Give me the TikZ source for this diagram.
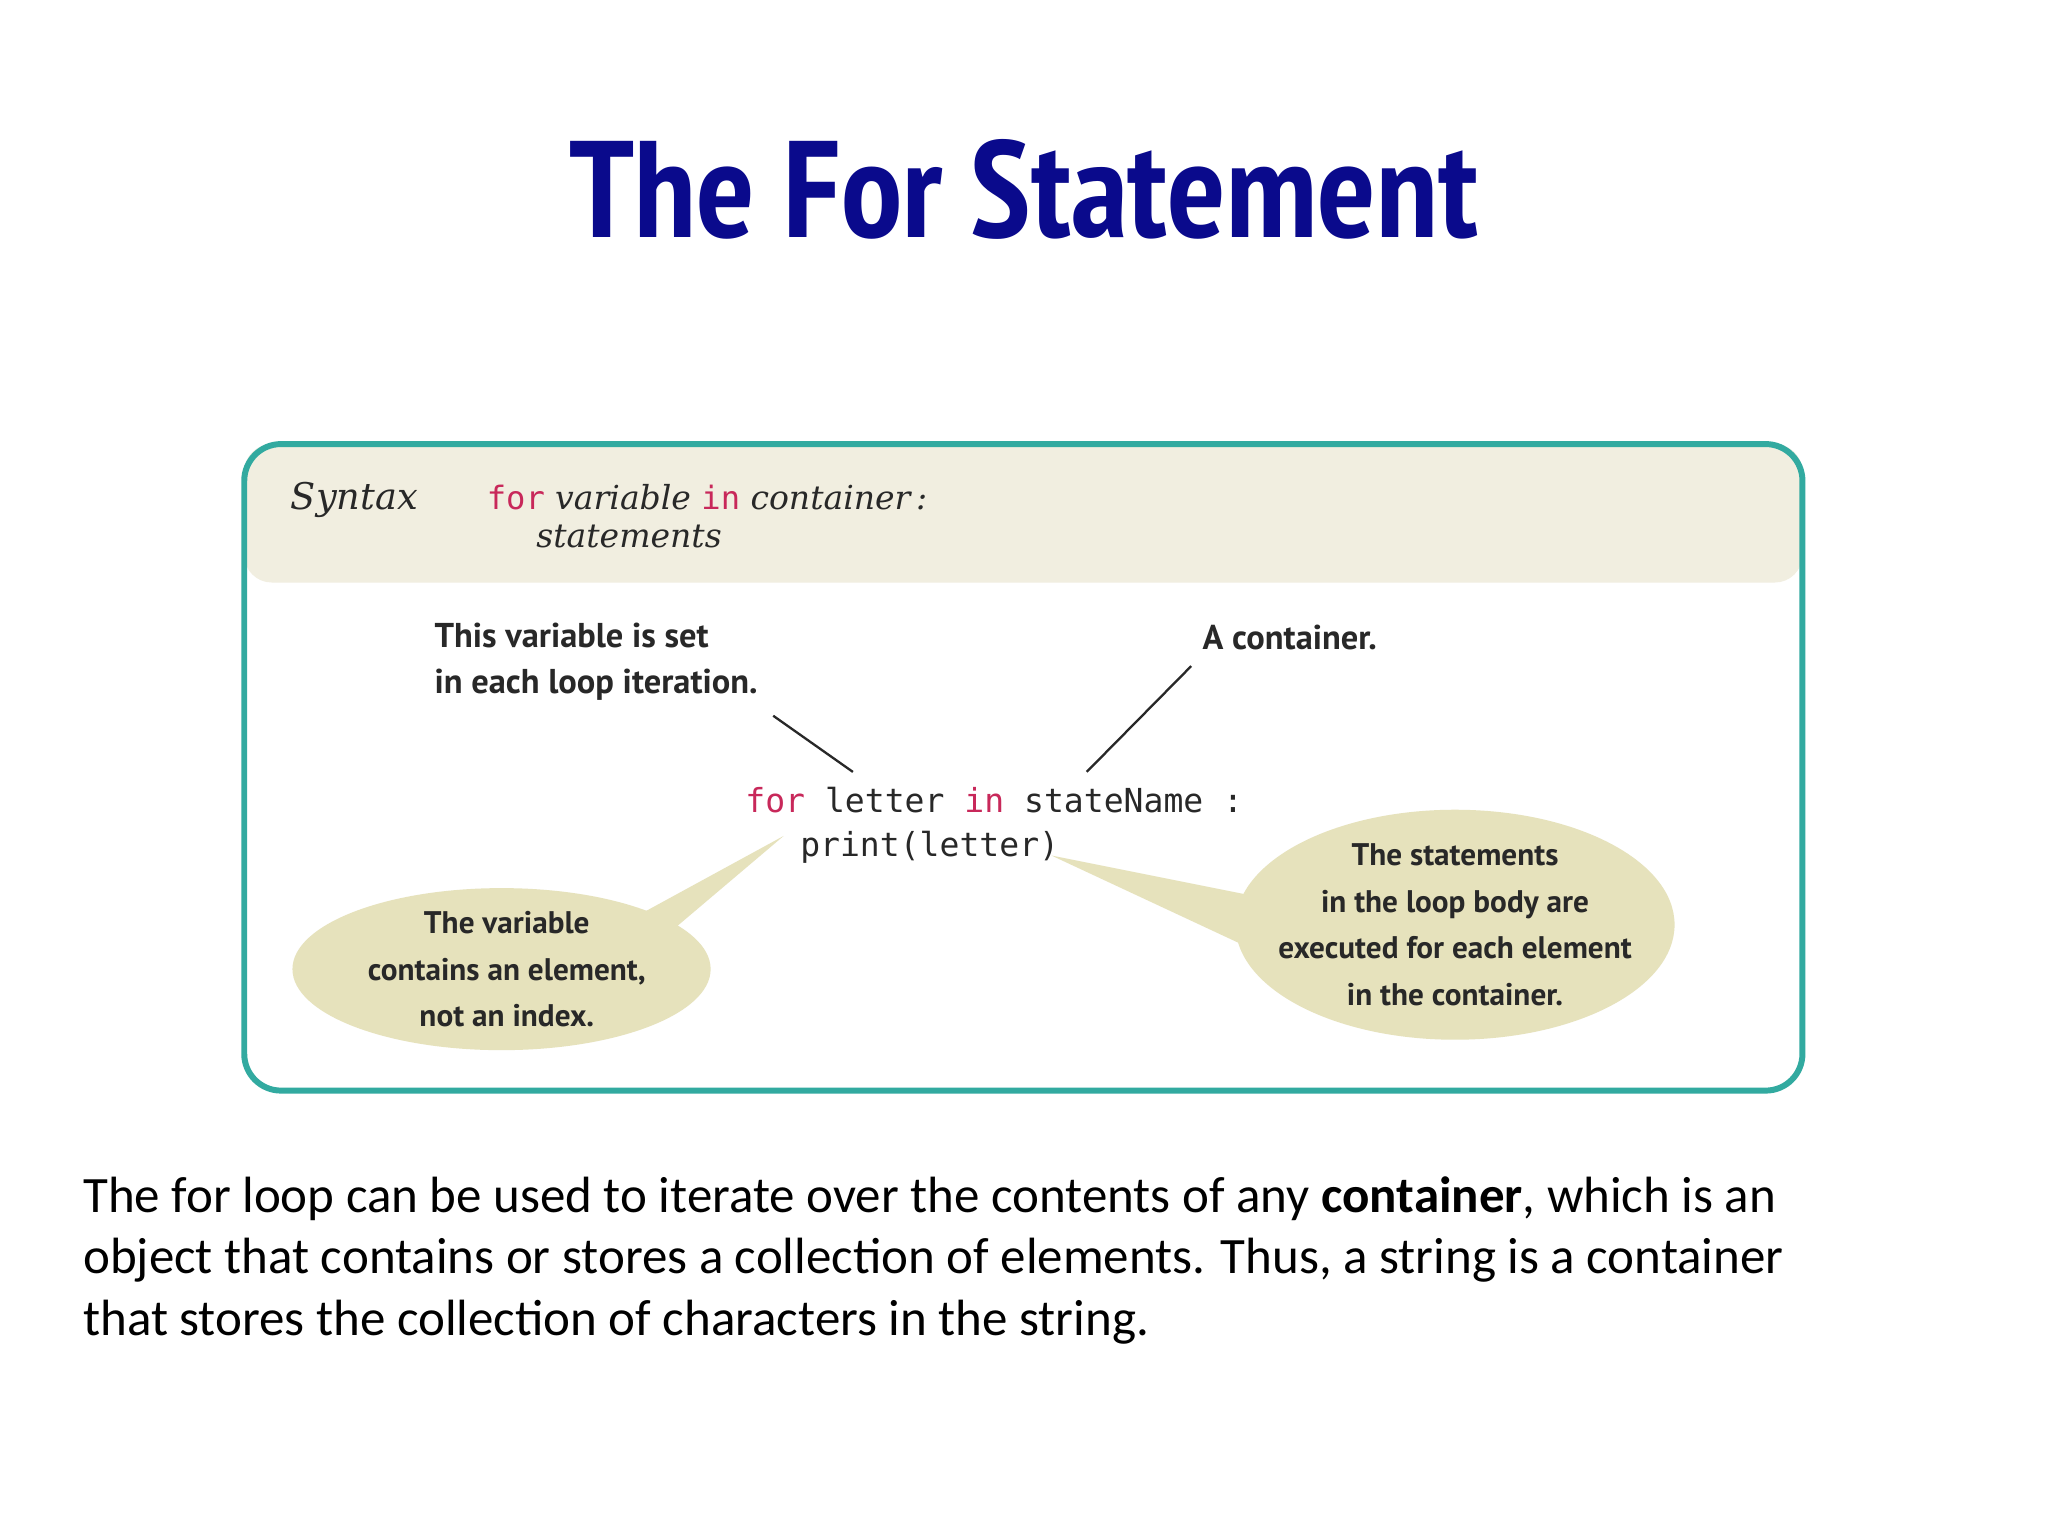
\documentclass[tikz,border=0pt]{standalone}
\usepackage{fontspec}
\setmainfont{Carlito}
\newfontfamily\notefont{PT Sans}
\newfontfamily\codefont{DejaVu Sans Mono}
\newfontfamily\synfont{DejaVu Serif}
\usetikzlibrary{shapes.geometric}
\definecolor{ttl}{RGB}{10,10,140}
\definecolor{teal}{RGB}{50,170,160}
\definecolor{band}{RGB}{241,238,224}
\definecolor{kw}{RGB}{200,40,90}
\definecolor{bub}{RGB}{230,226,188}
\definecolor{ink}{RGB}{40,40,40}
\tikzset{
 note/.style={font=\notefont\bfseries\fontsize{7.5}{10}\selectfont, text=ink, align=left, inner sep=0},
 bubtxt/.style={font=\notefont\bfseries\fontsize{6.8}{10.2}\selectfont, text=ink, align=center, inner sep=0},
 code/.style={font=\codefont\fontsize{7.2}{9}\selectfont, text=ink, inner sep=0, anchor=base west},
 lead/.style={draw=ink, line width=0.5pt}
}
\begin{document}
\begin{tikzpicture}[x=0.01cm,y=-0.01cm]
\useasboundingbox (0,0) rectangle (1568,1176);
\fill[white] (0,0) rectangle (1568,1176);
\node[font=\fontspec{PT Sans Narrow Bold}\fontsize{30}{32}\selectfont, text=ttl, inner sep=0] (title) at (784,145) {\resizebox{6.95cm}{!}{The For Statement}};
% box
\fill[band, rounded corners=6] (187,340) rectangle (1380,446);
\draw[teal, line width=1.3pt, rounded corners=8] (187,340) rectangle (1380,835);
\node[font=\synfont\itshape\fontsize{8}{10}\selectfont, text=ink, anchor=base west, inner sep=0] (syn) at (222,390) {Syntax};
\node[anchor=base west, inner sep=0, text=ink] (synline) at (372,390) {{\codefont\fontsize{7}{9}\selectfont\color{kw}for} {\synfont\itshape\fontsize{7.2}{9}\selectfont variable} {\codefont\fontsize{7}{9}\selectfont\color{kw}in} {\synfont\itshape\fontsize{7.2}{9}\selectfont container\,:}};
\node[font=\synfont\itshape\fontsize{7.2}{9}\selectfont, text=ink, anchor=base west, inner sep=0] (stm) at (410,419) {statements};
% annotations
\node[note, anchor=north west] (n1) at (332,476) {This variable is set\\in each loop iteration.};
\node[note, anchor=north west] (n2) at (920,478) {A container.};
\coordinate (l1a) at (592,548); \coordinate (l1b) at (653,591);
\coordinate (l2a) at (912,510); \coordinate (l2b) at (832,591);
\draw[lead] (l1a) -- (l1b);
\draw[lead] (l2a) -- (l2b);
% bubbles
\fill[bub] (490,700) -- (600,640) -- (515,712) -- cycle;
\node[ellipse, fill=bub, minimum width=3.2cm, minimum height=1.24cm, inner sep=0] (b1) at (384,742) {};
\node[bubtxt] (t1) at (388,742) {The variable\\contains an element,\\not an index.};
\fill[bub] (955,685) -- (805,655) -- (955,725) -- cycle;
\node[ellipse, fill=bub, minimum width=3.36cm, minimum height=1.76cm, inner sep=0] (b2) at (1114,708) {};
\node[bubtxt] (t2) at (1114,708) {The statements\\in the loop body are\\executed for each element\\in the container.};
% code
\node[code] (c1) at (570,622) {{\color{kw}for} letter {\color{kw}in} stateName :};
\node[code] (c2) at (612,656) {print(letter)};
% paragraph
\node[anchor=north west, align=left, inner sep=0, font=\fontsize{11.1}{13.4}\selectfont, text=black] (para) at (63,900) {The for loop can be used to iterate over the contents of any \textbf{container}, which is an\\object that contains or stores a collection of elements. Thus, a string is a container\\that stores the collection of characters in the string.};
\end{tikzpicture}
\end{document}
